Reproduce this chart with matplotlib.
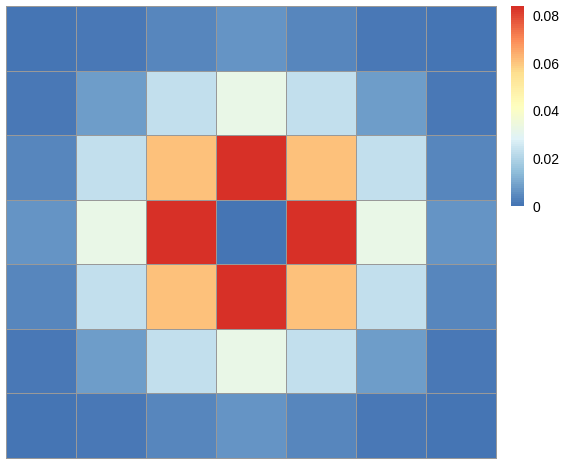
import matplotlib
matplotlib.use("Agg")
import matplotlib.pyplot as plt
import numpy as np
from matplotlib.colors import LinearSegmentedColormap, ListedColormap, BoundaryNorm

# 7x7 symmetric kernel
ROW0 = [0.0000, 0.0016, 0.0040, 0.0060, 0.0040, 0.0016, 0.0000]
ROW1 = [0.0016, 0.0082, 0.0229, 0.0324, 0.0229, 0.0082, 0.0016]
ROW2 = [0.0040, 0.0229, 0.0610, 0.0840, 0.0610, 0.0229, 0.0040]
ROW3 = [0.0060, 0.0324, 0.0840, 0.0000, 0.0840, 0.0324, 0.0060]
ROW4 = ROW2
ROW5 = ROW1
ROW6 = ROW0
CBAR_TICKS = [0, 0.02, 0.04, 0.06, 0.08]
CBAR_LABELS = ["0", "0.02", "0.04", "0.06", "0.08"]

# rev(brewer.pal(7, "RdYlBu")), 100 steps like pheatmap
PAL = ["#4575B4", "#91BFDB", "#E0F3F8", "#FFFFBF", "#FEE090", "#FC8D59", "#D73027"]

mat = np.array([ROW0, ROW1, ROW2, ROW3, ROW4, ROW5, ROW6])
vmin, vmax = mat.min(), mat.max()
ramp = LinearSegmentedColormap.from_list("rdylbu_r", PAL)
cmap = ListedColormap(ramp(np.linspace(0, 1, 100)))
breaks = np.linspace(vmin, vmax, 101)
norm = BoundaryNorm(breaks, 100)

plt.rcParams["font.family"] = ["Liberation Sans", "DejaVu Sans"]

W, H = 561, 465
fig = plt.figure(figsize=(W / 100, H / 100), dpi=100)

ax = fig.add_axes([6 / W, (H - 458) / H, 490 / W, 452 / H])
n = mat.shape[0]
mesh = ax.pcolormesh(np.arange(n + 1), np.arange(n + 1), mat, cmap=cmap, norm=norm,
                     edgecolors="#999999", linewidth=0.6)
mesh.set_clip_on(False)
ax.set_xlim(0, n)
ax.set_ylim(n, 0)
ax.set_xticks([])
ax.set_yticks([])
for s in ax.spines.values():
    s.set_visible(False)

# colour key
cax = fig.add_axes([511 / W, (H - 206) / H, 13 / W, 200 / H])
grad = np.linspace(vmin, vmax, 100).reshape(-1, 1)
cax.imshow(grad, aspect="auto", origin="lower", cmap=cmap, norm=norm,
           extent=[0, 1, vmin, vmax])
cax.set_xticks([])
cax.yaxis.tick_right()
cax.set_yticks(CBAR_TICKS)
cax.set_yticklabels(CBAR_LABELS, fontsize=10)
cax.tick_params(axis="y", length=0, pad=6)
for s in cax.spines.values():
    s.set_visible(False)

fig.savefig("out.png", dpi=100)
